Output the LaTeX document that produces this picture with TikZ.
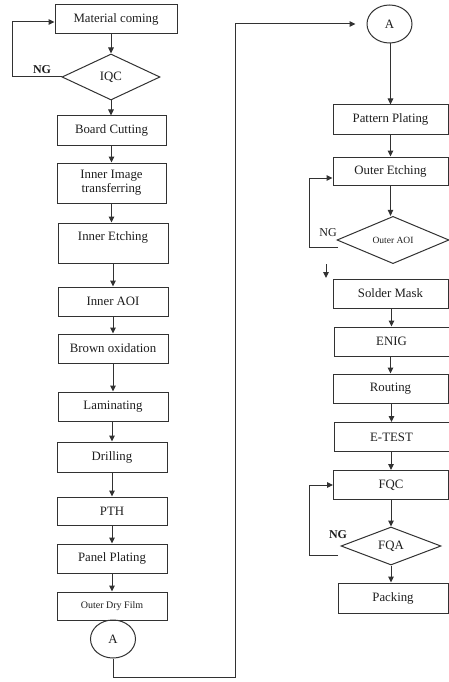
\documentclass[tikz,border=0pt]{standalone}
\usepackage{fontspec}
\setmainfont{Liberation Serif}
\usetikzlibrary{shapes.geometric,arrows.meta}
\definecolor{lc}{RGB}{50,50,50}
\definecolor{tc}{RGB}{30,30,30}
\begin{document}
\begin{tikzpicture}[x=1pt,y=1pt,
 box/.style={draw=lc, line width=1pt, minimum height=29pt, minimum width=110pt, inner sep=1pt, text=tc, font=\fontsize{12.8}{14}\selectfont, align=center},
 rbox/.style={box, minimum width=115pt},
 decis/.style={diamond, draw=lc, line width=1pt, inner sep=0pt, text=tc, font=\fontsize{12.8}{14}\selectfont},
 conn/.style={ellipse, draw=lc, line width=1pt, minimum width=45pt, minimum height=38pt, inner sep=0pt, text=tc, font=\fontsize{12.8}{14}\selectfont},
 arr/.style={draw=lc, line width=1pt, -{Triangle[length=6pt,width=5.5pt]}},
 nglab/.style={text=tc, font=\bfseries\fontsize{12}{14}\selectfont, inner sep=0pt}
]
\useasboundingbox (0,0) rectangle (449,-682);
\fill[white] (0,0) rectangle (449,-682);

% left column
\node[box, minimum width=122pt] (mc) at (116,-19.5) {Material coming};
\node[decis, minimum width=98pt, minimum height=46pt] (iqc) at (111,-77) {IQC};
\node[box, minimum width=109pt] (bc) at (111.5,-130.5) {Board Cutting};
\node[box, minimum width=109pt, minimum height=40pt] (iit) at (111.5,-183) {Inner Image\\transferring};
\node[box, minimum height=40pt] (ie) at (113,-243) {Inner Etching\\\phantom{I}};
\node[box] (iaoi) at (113,-301.5) {Inner AOI};
\node[box] (bo) at (113,-348.5) {Brown oxidation};
\node[box] (lam) at (113,-406.5) {Laminating};
\node[box, minimum height=30pt] (dr) at (112,-457) {Drilling};
\node[box, minimum height=28pt] (pth) at (112,-511) {PTH};
\node[box] (ppa) at (112,-558.5) {Panel Plating};
\node[box, minimum height=28pt, font=\fontsize{10}{12}\selectfont] (odf) at (112,-606) {Outer Dry Film};
\node[conn] (ca) at (113,-639) {A};

\draw[arr] (mc.south -| iqc.north) -- (iqc.north);
\draw[arr] (iqc.south) -- (iqc.south |- bc.north);
\draw[arr] (bc.south -| iit.north) -- (iit.north);
\draw[arr] (iit.south) -- (iit.south |- ie.north);
\draw[arr] (ie.south) -- (iaoi.north);
\draw[arr] (iaoi.south) -- (bo.north);
\draw[arr] (bo.south) -- (lam.north);
\draw[arr] (lam.south -| dr.north) -- (dr.north);
\draw[arr] (dr.south) -- (pth.north);
\draw[arr] (pth.south) -- (ppa.north);
\draw[arr] (ppa.south) -- (odf.north);

% IQC NG loop
\coordinate (q1) at (12,-77);
\coordinate (q2) at (12,-22);
\draw[arr] (iqc.west) -- (q1) -- (q2) -- (q2 -| mc.west);
\node[nglab] (ng1) at (42,-70) {NG};

% right column
\node[conn] (cb) at (389.5,-24) {A};
\node[rbox] (ppl) at (390.5,-119.5) {Pattern Plating};
\node[rbox, minimum height=28pt] (oe) at (390.5,-171) {Outer Etching};
\node[decis, minimum width=112pt, minimum height=46pt, font=\fontsize{9.5}{11}\selectfont] (oaoi) at (393,-240) {Outer AOI};
\node[rbox] (sm) at (390.5,-293.5) {Solder Mask};
\node[rbox] (enig) at (391.5,-341.5) {ENIG};
\node[rbox] (rout) at (390.5,-388.5) {Routing};
\node[rbox] (et) at (391.5,-437) {E-TEST};
\node[rbox] (fqc) at (391,-485) {FQC};
\node[decis, minimum width=100pt, minimum height=38pt] (fqa) at (391,-546) {FQA};
\node[box, minimum height=30pt] (pk) at (393,-598) {Packing};

% connector A to A
\coordinate (j1) at (235,-677);
\coordinate (j2) at (235,-24);
\draw[arr, shorten >=11pt] (ca.south) |- (j1) -- (j2) -- (j2 -| cb.west);

\draw[arr] (cb.south -| ppl.north) -- (ppl.north);
\draw[arr] (ppl.south) -- (oe.north);
\draw[arr] (oe.south) -- (oe.south |- oaoi.north);
\draw[arr] (sm.south -| enig.north) -- (enig.north);
\draw[arr] (enig.south -| rout.north) -- (rout.north);
\draw[arr] (rout.south -| et.north) -- (et.north);
\draw[arr] (et.south -| fqc.north) -- (fqc.north);
\draw[arr] (fqc.south) -- (fqc.south |- fqa.north);
\draw[arr] (fqa.south) -- (fqa.south |- pk.north);

% free arrow above Solder Mask
\coordinate (fa1) at (326,-264);
\coordinate (fa2) at (326,-278);
\draw[arr] (fa1) -- (fa2);

% Outer AOI NG loop
\coordinate (n1) at (338,-247);
\coordinate (n2) at (309,-247);
\coordinate (n3) at (309,-178);
\draw[arr] (n1) -- (n2) -- (n3) -- (n3 -| oe.west);
\node[nglab, font=\fontsize{12}{14}\selectfont] (ng2) at (328,-233) {NG};

% FQA NG loop
\coordinate (m1) at (338,-555);
\coordinate (m2) at (309,-555);
\draw[arr] (m1) -- (m2) |- (fqc.west);
\node[nglab] (ng3) at (338,-535) {NG};
\end{tikzpicture}
\end{document}
